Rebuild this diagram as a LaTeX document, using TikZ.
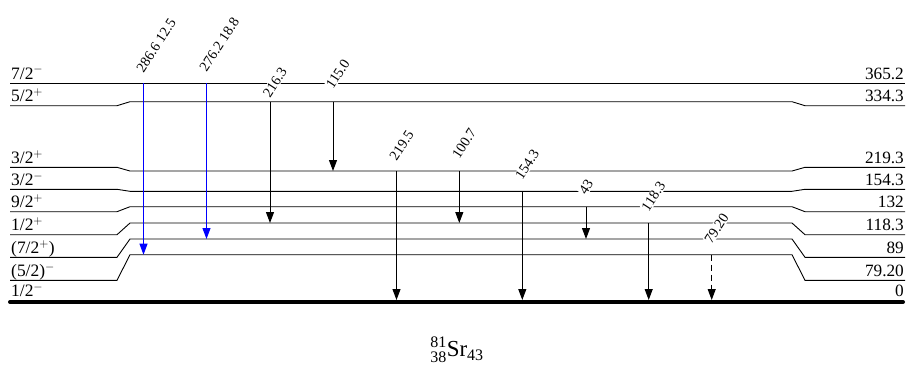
\documentclass[tikz,border=0pt]{standalone}
\usepackage{fontspec}
\setmainfont{Liberation Serif}
\usetikzlibrary{arrows.meta}
\begin{document}
\begin{tikzpicture}[x=1bp,y=-1bp,
  lev/.style={line width=0.9bp, black},
  gam/.style={line width=1bp, -{Triangle[width=8bp,length=11bp]}},
  bgam/.style={gam, blue},
  dgam/.style={gam, dash pattern=on 6bp off 4bp},
  glab/.style={rotate=57, anchor=south west, fill=white, inner sep=0.8pt, font=\fontsize{14.3}{15}\selectfont},
  llab/.style={anchor=base west, inner sep=0pt, font=\fontsize{17.5}{18}\selectfont},
  rlab/.style={anchor=base east, inner sep=0pt, font=\fontsize{17.3}{18}\selectfont}]
\useasboundingbox (0,0) rectangle (911,381);
% levels: left/right y, middle y
\draw[lev] (10,83) -- (905,83);
\draw[lev] (10,105.7) -- (117,105.7) -- (130,101.7) -- (792,101.7) -- (805,105.7) -- (905,105.7);
\draw[lev] (10,167.3) -- (117,167.3) -- (130,171) -- (792,171) -- (805,167.3) -- (905,167.3);
\draw[lev] (10,189.3) -- (117,189.3) -- (130,191.3) -- (792,191.3) -- (805,189.3) -- (905,189.3);
\draw[lev] (10,211.7) -- (117,211.7) -- (130,206.7) -- (792,206.7) -- (805,211.7) -- (905,211.7);
\draw[lev] (10,234.7) -- (117,234.7) -- (130,223) -- (792,223) -- (805,234.7) -- (905,234.7);
\draw[lev] (10,257.3) -- (117,257.3) -- (130,239) -- (792,239) -- (805,257.3) -- (905,257.3);
\draw[lev] (10,280.3) -- (117,280.3) -- (130,254.7) -- (792,254.7) -- (805,280.3) -- (905,280.3);
\draw[line width=4bp, line cap=round] (10,302) -- (903,302);
% level labels
\node[llab] (s1) at (11,79) {7/2$^{-}$};
\node[llab] (s2) at (11,101.7) {5/2$^{+}$};
\node[llab] (s3) at (11,163.3) {3/2$^{+}$};
\node[llab] (s4) at (11,185.3) {3/2$^{-}$};
\node[llab] (s5) at (11,207.7) {9/2$^{+}$};
\node[llab] (s6) at (11,230.7) {1/2$^{+}$};
\node[llab] (s7) at (11,253.3) {(7/2$^{+}$)};
\node[llab] (s8) at (11,276.3) {(5/2)$^{-}$};
\node[llab] (s9) at (11,296.5) {1/2$^{-}$};
\node[rlab] (e1) at (904,79) {365.2};
\node[rlab] (e2) at (904,101.7) {334.3};
\node[rlab] (e3) at (904,163.3) {219.3};
\node[rlab] (e4) at (904,185.3) {154.3};
\node[rlab] (e5) at (904,207.7) {132};
\node[rlab] (e6) at (904,230.7) {118.3};
\node[rlab] (e7) at (904,253.3) {89};
\node[rlab] (e8) at (904,276.3) {79.20};
\node[rlab] (e9) at (904,296.5) {0};
% gamma labels
\node[glab] (l1) at (144,75) {286.6 12.5};
\node[glab] (l2) at (207.2,74) {276.2 18.8};
\node[glab] (l3) at (270.5,99.5) {216.3};
\node[glab] (l4) at (333.5,91) {115.0};
\node[glab] (l5) at (397.2,162.5) {219.5};
\node[glab] (l6) at (459.8,160.5) {100.7};
\node[glab] (l7) at (522.8,182) {154.3};
\node[glab] (l8) at (586.5,197) {43};
\node[glab] (l9) at (649.2,213.5) {118.3};
\node[glab] (l10) at (712.2,245.5) {79.20};
% transition endpoints
\coordinate (a1) at (143.5,83);   \coordinate (b1) at (143.5,254.7);
\coordinate (a2) at (206.5,83);   \coordinate (b2) at (206.5,239);
\coordinate (a3) at (270,101.7);  \coordinate (b3) at (270,223);
\coordinate (a4) at (333,101.7);  \coordinate (b4) at (333,171);
\coordinate (a5) at (396.5,171);  \coordinate (b5) at (396.5,300);
\coordinate (a6) at (459.3,171);  \coordinate (b6) at (459.3,223);
\coordinate (a7) at (522.3,191.3);\coordinate (b7) at (522.3,300);
\coordinate (a8) at (586,206.7);  \coordinate (b8) at (586,239);
\coordinate (a9) at (648.7,223);  \coordinate (b9) at (648.7,300);
\coordinate (a10) at (711.7,254.7);\coordinate (b10) at (711.7,300);
\draw[bgam] (a1) -- (b1);
\draw[bgam] (a2) -- (b2);
\draw[gam] (a3) -- (b3);
\draw[gam] (a4) -- (b4);
\draw[gam] (a5) -- (b5);
\draw[gam] (a6) -- (b6);
\draw[gam] (a7) -- (b7);
\draw[gam] (a8) -- (b8);
\draw[gam] (a9) -- (b9);
\draw[dgam] (a10) -- (b10);
% title
\node[anchor=base, inner sep=0pt, font=\fontsize{23}{25}\selectfont] (title) at (457,356.7) {${}^{\mathrm{81}}_{\mathrm{38}}\mathrm{Sr}_{\mathrm{43}}$};
\end{tikzpicture}
\end{document}
